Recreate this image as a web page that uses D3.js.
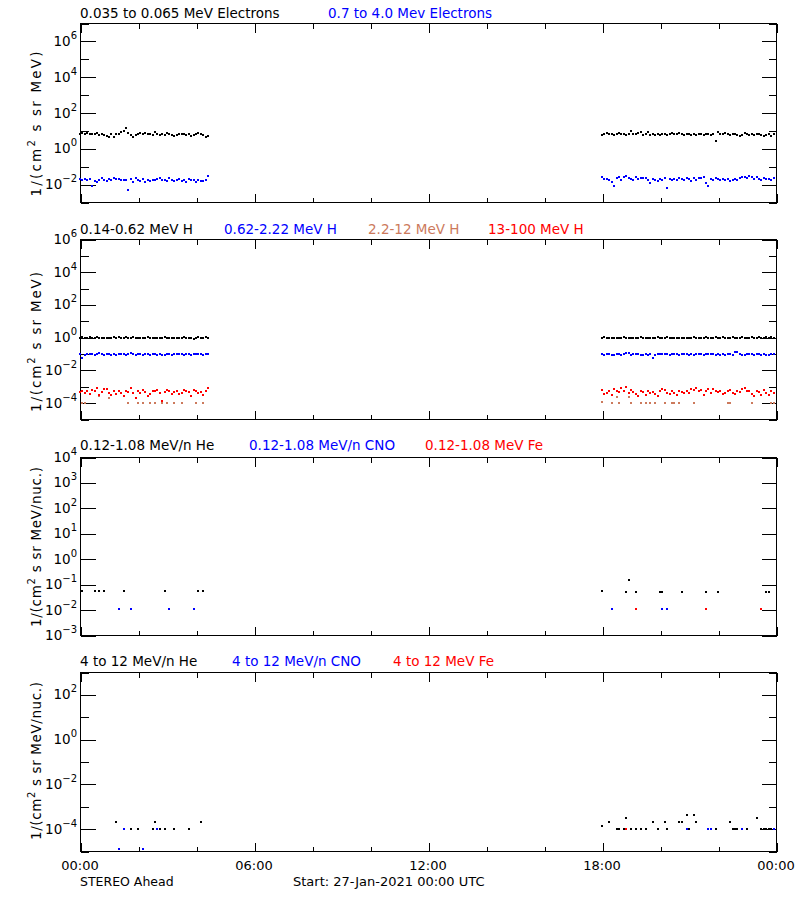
<!DOCTYPE html>
<html><head><meta charset="utf-8">
<script src="https://cdn.jsdelivr.net/npm/d3@7"></script>
<style>
body{margin:0;background:#fff}
svg{display:block}
text{font-family:"DejaVu Sans",sans-serif;font-size:13px}
</style>
</head><body>
<svg id="c" width="800" height="900"></svg>
<script>
// ---------------- DATA ----------------
// time axis (minutes since 27-Jan-2021 00:00)
const xMajorTicks = [0, 360, 720, 1080, 1440];
const xMajorLabels = ["00:00", "06:00", "12:00", "18:00", "00:00"];
const xMinorTicks = [120, 240, 480, 600, 840, 960, 1200, 1320];
const cadence = 5;          // minutes between samples
const seg1Start = 0;        // first data interval start (min)
const seg2Start = 1080;     // second data interval start (min)

// Panel 1: electrons  1/(cm2 s sr MeV)
const e1Seg1 = [6.2,7.4,6.6,7.4,6.6,6.0,6.3,7.4,5.6,6.0,5.3,4.8,4.5,6.0,4.5,6.6,6.0,8.1,9.2,13.4,7.4,5.3,4.4,5.3,6.6,7.4,6.3,7.0,6.0,6.0,5.6,8.1,6.3,5.3,6.3,5.6,7.4,6.3,5.3,5.0,5.6,6.0,6.6,6.0,5.3,6.3,4.8,5.6,6.6,7.4,6.3,5.6,4.4,5.0];
const e1Seg2 = [5.6,6.3,7.4,6.6,6.0,5.3,6.6,7.4,6.3,6.0,5.3,6.0,9.2,6.3,6.6,7.0,7.8,5.6,6.3,7.8,5.3,6.0,5.6,6.3,5.3,6.6,6.0,5.3,6.3,7.0,6.6,6.0,7.0,6.3,5.6,6.6,6.0,5.6,6.6,5.3,6.3,6.6,5.3,6.0,6.6,5.6,6.0,2.7,7.8,6.3,6.0,7.0,6.6,5.6,6.3,6.0,5.3,5.0,5.6,7.0,6.3,5.6,6.6,5.3,6.0,6.6,5.3,4.8,5.6,6.3,5.0,6.0];
const e2Seg1 = [0.019,0.018,0.020,0.016,0.019,0.0074,0.015,0.013,0.017,0.021,0.016,0.014,0.019,0.018,0.021,0.020,0.019,0.017,0.018,0.016,0.0048,0.020,0.013,0.021,0.017,0.015,0.019,0.013,0.016,0.014,0.017,0.016,0.019,0.021,0.018,0.017,0.015,0.022,0.016,0.014,0.017,0.019,0.015,0.016,0.013,0.020,0.016,0.018,0.013,0.016,0.015,0.014,0.017,0.028];
const e2Seg2 = [0.026,0.019,0.020,0.018,0.013,0.0078,0.023,0.025,0.017,0.024,0.027,0.023,0.020,0.017,0.024,0.019,0.021,0.023,0.023,0.017,0.012,0.020,0.018,0.014,0.019,0.018,0.021,0.0060,0.019,0.016,0.020,0.018,0.021,0.019,0.016,0.022,0.020,0.014,0.021,0.018,0.022,0.022,0.026,0.012,0.0078,0.019,0.017,0.022,0.020,0.016,0.020,0.018,0.019,0.014,0.017,0.020,0.016,0.022,0.026,0.025,0.021,0.028,0.026,0.019,0.024,0.020,0.017,0.022,0.019,0.020,0.016,0.021];

// Panel 2: protons
const h1Seg1 = [0.95,1.0,0.9,0.95,1.05,0.9,0.95,1.0,0.95,0.9,0.85,0.9,0.95,0.9,1.0,0.95,1.1,0.9,0.95,1.0,0.9,0.95,1.0,0.9,0.95,0.85,0.9,0.95,1.0,0.9,0.95,0.9,0.85,0.95,0.9,1.0,0.95,0.9,0.95,0.85,0.9,0.95,0.9,1.0,0.85,0.95,0.9,0.8,0.95,1.0,0.9,0.95,1.0,0.95];
const h1Seg2 = [0.95,1.0,0.9,0.95,0.85,0.9,0.95,0.95,0.9,1.0,0.95,0.9,0.95,0.85,0.95,0.9,1.05,0.95,0.9,0.95,0.85,0.9,0.85,1.0,0.95,0.9,0.95,1.0,0.95,0.9,0.85,0.9,0.95,0.95,0.9,0.95,0.9,0.95,1.0,0.95,0.9,0.95,0.9,1.0,0.95,0.9,0.95,1.05,0.9,0.95,1.0,0.95,0.9,0.95,1.0,0.9,0.95,0.9,1.0,0.95,0.9,0.95,1.0,0.95,0.9,1.05,0.85,0.95,1.0,0.95,1.1,0.95];
const h2Seg1 = [0.09,0.057,0.085,0.095,0.10,0.09,0.085,0.095,0.11,0.09,0.085,0.1,0.09,0.08,0.09,0.085,0.095,0.09,0.1,0.085,0.09,0.11,0.095,0.085,0.09,0.1,0.08,0.09,0.095,0.085,0.09,0.1,0.085,0.09,0.08,0.085,0.1,0.09,0.085,0.09,0.095,0.09,0.1,0.085,0.09,0.095,0.08,0.1,0.09,0.1,0.09,0.085,0.09,0.095];
const h2Seg2 = [0.09,0.085,0.09,0.1,0.08,0.085,0.09,0.1,0.085,0.09,0.11,0.11,0.085,0.1,0.09,0.095,0.08,0.085,0.09,0.085,0.09,0.057,0.085,0.1,0.095,0.09,0.1,0.09,0.085,0.09,0.095,0.09,0.085,0.09,0.1,0.095,0.085,0.09,0.085,0.1,0.095,0.09,0.085,0.09,0.095,0.1,0.09,0.08,0.09,0.085,0.09,0.08,0.095,0.09,0.085,0.12,0.13,0.09,0.08,0.085,0.1,0.09,0.095,0.085,0.09,0.1,0.085,0.09,0.08,0.085,0.09,0.09];
const h3Seg1 = [null,9e-5,9e-5,null,null,null,null,null,2.5e-4,null,null,null,2e-4,null,null,null,null,null,null,null,9e-5,null,null,null,9e-5,null,9e-5,null,null,9e-5,null,9e-5,null,null,9e-5,null,9e-5,null,null,9e-5,null,null,9e-5,null,null,null,null,null,9e-5,null,null,9e-5,null,null];
const h3Seg2 = [1.1e-4,null,null,null,9e-5,null,2.1e-4,9e-5,null,null,null,2.1e-4,9e-5,null,null,null,9e-5,null,9e-5,null,9e-5,null,9e-5,null,null,null,9e-5,null,null,9e-5,9e-5,null,9e-5,null,null,null,null,null,9e-5,null,null,null,null,null,null,null,null,null,null,null,null,null,9e-5,9e-5,null,null,null,null,null,null,null,null,9e-5,null,null,null,null,null,null,null,9e-5,9e-5];
const h4Seg1 = [4.5e-4,5e-4,4e-4,5.5e-4,3.5e-4,6e-4,5e-4,8e-4,3e-4,4.5e-4,6.5e-4,6.5e-4,4e-4,3e-4,5e-4,3.5e-4,5e-4,4e-4,2.5e-4,5.5e-4,4.5e-4,7.5e-4,4e-4,1.8e-4,5e-4,4e-4,6e-4,4.5e-4,2.5e-4,3.5e-4,5e-4,5.5e-4,6e-4,4e-4,1.3e-4,4.5e-4,6e-4,5e-4,3.5e-4,4.5e-4,5e-4,3.5e-4,4e-4,6e-4,5e-4,4.5e-4,2.5e-4,6e-4,5e-4,4e-4,4.5e-4,3e-4,5e-4,8e-4];
const h4Seg2 = [6e-4,3.5e-4,4e-4,5e-4,3e-4,6.5e-4,5e-4,4.5e-4,7.5e-4,5.5e-4,9.5e-4,4e-4,6e-4,4.5e-4,3.5e-4,2.5e-4,5e-4,4.5e-4,3e-4,5e-4,4e-4,4.5e-4,3.5e-4,2.5e-4,5e-4,7e-4,6e-4,4e-4,3.5e-4,5e-4,4e-4,3e-4,5e-4,4.5e-4,4e-4,5e-4,4e-4,7e-4,6e-4,8e-4,5e-4,6e-4,3e-4,5e-4,6.5e-4,4e-4,7e-4,5e-4,4.5e-4,5e-4,3.5e-4,4e-4,5.5e-4,6e-4,4e-4,3.5e-4,5e-4,4.5e-4,6.5e-4,8e-4,5.5e-4,5e-4,3.5e-4,2.5e-4,5e-4,4.5e-4,3e-4,6e-4,4e-4,3e-4,5.5e-4,4e-4];

// Panel 3: 0.12-1.08 MeV/n ions (sparse): [minute, value]
const lowHe  = [[5,0.053],[30,0.053],[40,0.053],[50,0.053],[90,0.053],[175,0.053],[245,0.053],[255,0.053],[1080,0.056],[1130,0.050],[1135,0.14],[1150,0.050],[1200,0.050],[1205,0.050],[1245,0.050],[1295,0.050],[1320,0.050],[1420,0.050],[1425,0.050]];
const lowCNO = [[80,0.011],[105,0.011],[185,0.011],[235,0.011],[1100,0.011],[1205,0.011],[1215,0.011]];
const lowFe  = [[1150,0.011],[1295,0.011],[1410,0.011]];

// Panel 4: 4-12 MeV/n ions (sparse): [minute, value]
const hiHe  = [[75,1.9e-4],[105,1e-4],[120,1e-4],[150,1e-4],[155,1.9e-4],[165,1e-4],[175,1e-4],[195,1e-4],[225,1e-4],[250,1.9e-4],
  [1080,1.35e-4],[1095,1.9e-4],[1110,1e-4],[1115,1e-4],[1125,1e-4],[1130,2.9e-4],[1140,1e-4],[1150,1e-4],[1160,1e-4],[1170,1e-4],[1185,1.9e-4],[1195,1e-4],[1210,1.9e-4],[1215,1e-4],[1240,1.9e-4],[1245,1.9e-4],[1255,4.1e-4],[1260,1e-4],[1270,4.1e-4],[1275,1.9e-4],[1315,1e-4],[1345,1.9e-4],[1350,1e-4],[1355,1e-4],[1360,1e-4],[1380,1e-4],[1400,2.9e-4],[1410,1e-4],[1415,1e-4],[1420,1e-4],[1425,1e-4],[1430,1e-4]];
const hiCNO = [[80,1.2e-5],[90,1e-4],[130,1.2e-5],[160,1e-4],[1255,1e-4],[1300,1e-4],[1305,1e-4],[1370,1e-4],[1435,1e-4]];
const hiFe  = [[1130,1e-4]];

// titles
const p1Titles = ["0.035 to 0.065 MeV Electrons", "0.7 to 4.0 Mev Electrons"];
const p2Titles = ["0.14-0.62 MeV H", "0.62-2.22 MeV H", "2.2-12 MeV H", "13-100 MeV H"];
const p3Titles = ["0.12-1.08 MeV/n He", "0.12-1.08 MeV/n CNO", "0.12-1.08 MeV Fe"];
const p4Titles = ["4 to 12 MeV/n He", "4 to 12 MeV/n CNO", "4 to 12 MeV Fe"];

// ---------------- DRAW ----------------
const BLACK = "#000000", BLUE = "#0000ff", RED = "#ff0000", SIENNA = "#cc7a5c";
const X0 = 80, X1 = 776;
const svg = d3.select("#c");
const x = d3.scaleLinear().domain([0, 1440]).range([X0, X1]);

function segPoints(arr, start) {
  return arr.map((v, i) => [start + i * cadence, v]).filter(d => d[1] != null);
}

const panels = [
  { top: 23, bottom: 202, lo: -3, hi: 7, step: 2, unit: "MeV)", labelCY: 124, labelLen: 145, titleY: 18,
    titles: [[p1Titles[0], BLACK, 80], [p1Titles[1], BLUE, 328]],
    series: [
      [BLUE, segPoints(e2Seg1, seg1Start).concat(segPoints(e2Seg2, seg2Start))],
      [BLACK, segPoints(e1Seg1, seg1Start).concat(segPoints(e1Seg2, seg2Start))]
    ] },
  { top: 239, bottom: 419, lo: -5, hi: 6, step: 2, unit: "MeV)", labelCY: 342, labelLen: 140, titleY: 234,
    titles: [[p2Titles[0], BLACK, 80], [p2Titles[1], BLUE, 224], [p2Titles[2], SIENNA, 368], [p2Titles[3], RED, 488]],
    series: [
      [SIENNA, segPoints(h3Seg1, seg1Start).concat(segPoints(h3Seg2, seg2Start))],
      [RED, segPoints(h4Seg1, seg1Start).concat(segPoints(h4Seg2, seg2Start))],
      [BLUE, segPoints(h2Seg1, seg1Start).concat(segPoints(h2Seg2, seg2Start))],
      [BLACK, segPoints(h1Seg1, seg1Start).concat(segPoints(h1Seg2, seg2Start))]
    ] },
  { top: 457, bottom: 635, lo: -3, hi: 4, step: 1, unit: "MeV/nuc.)", labelCY: 547, labelLen: 160, titleY: 450,
    titles: [[p3Titles[0], BLACK, 80], [p3Titles[1], BLUE, 249], [p3Titles[2], RED, 425]],
    series: [[BLACK, lowHe], [BLUE, lowCNO], [RED, lowFe]] },
  { top: 672, bottom: 851, lo: -5, hi: 3, step: 2, unit: "MeV/nuc.)", labelCY: 761, labelLen: 158, titleY: 666,
    titles: [[p4Titles[0], BLACK, 80], [p4Titles[1], BLUE, 232], [p4Titles[2], RED, 393]],
    series: [[BLACK, hiHe], [BLUE, hiCNO], [RED, hiFe]] }
];

panels.forEach((p, pi) => {
  const y = d3.scaleLog().domain([Math.pow(10, p.lo), Math.pow(10, p.hi)]).range([p.bottom, p.top]);
  const g = svg.append("g");
  const decades = d3.range(p.lo, p.hi + 1);
  const major = decades.filter(e => e % p.step === 0).map(e => Math.pow(10, e));
  const minor = decades.filter(e => e % p.step !== 0).map(e => Math.pow(10, e));

  // y ticks left & right
  [[d3.axisLeft, X0], [d3.axisRight, X1]].forEach(([fn, xp]) => {
    g.append("g").attr("transform", `translate(${xp + 0.5},0.5)`)
      .call(fn(y).tickValues(major).tickSize(-15).tickSizeOuter(0).tickFormat(""))
      .call(a => a.select(".domain").remove());
    g.append("g").attr("transform", `translate(${xp + 0.5},0.5)`)
      .call(fn(y).tickValues(minor).tickSize(-8).tickSizeOuter(0).tickFormat(""))
      .call(a => a.select(".domain").remove());
  });
  // x ticks bottom & top
  [[d3.axisBottom, p.bottom], [d3.axisTop, p.top]].forEach(([fn, yp]) => {
    g.append("g").attr("transform", `translate(0.5,${yp + 0.5})`)
      .call(fn(x).tickValues(xMajorTicks).tickSize(-9).tickSizeOuter(0).tickFormat(""))
      .call(a => a.select(".domain").remove());
    g.append("g").attr("transform", `translate(0.5,${yp + 0.5})`)
      .call(fn(x).tickValues(xMinorTicks).tickSize(-5).tickSizeOuter(0).tickFormat(""))
      .call(a => a.select(".domain").remove());
  });
  g.selectAll(".tick line").attr("stroke", "#000").attr("shape-rendering", "crispEdges");
  // frame
  g.append("rect").attr("x", X0 + 0.5).attr("y", p.top + 0.5)
    .attr("width", X1 - X0).attr("height", p.bottom - p.top)
    .attr("fill", "none").attr("stroke", "#000").attr("shape-rendering", "crispEdges");

  // y tick labels 10^n
  major.forEach(v => {
    const e = Math.round(Math.log10(v));
    const t = g.append("text").attr("x", 77).attr("y", y(v) + 5).attr("text-anchor", "end")
      .style("font-size", "13.5px");
    t.append("tspan").text("10");
    t.append("tspan").attr("dy", -7).style("font-size", "10px").text(String(e).replace("-", "\u2212"));
  });

  // y axis title
  const yt = g.append("text").attr("transform", `translate(41,${p.labelCY}) rotate(-90)`)
    .attr("text-anchor", "middle").style("font-size", "13.5px")
    .attr("textLength", p.labelLen).attr("lengthAdjust", "spacing");
  yt.append("tspan").text("1/(cm");
  yt.append("tspan").attr("dy", -6).style("font-size", "10px").text("2");
  yt.append("tspan").attr("dy", 6).text(" s sr " + p.unit);

  // titles
  p.titles.forEach(([txt, col, tx]) => {
    g.append("text").attr("x", tx).attr("y", p.titleY).attr("fill", col)
      .style("font-size", "13.5px").text(txt);
  });

  // data points
  p.series.forEach(([col, pts]) => {
    g.append("g").selectAll("rect").data(pts).join("rect")
      .attr("x", d => Math.round(x(d[0])) - 1)
      .attr("y", d => Math.round(y(d[1])) - 1)
      .attr("width", 2).attr("height", 2)
      .attr("fill", col);
  });

  if (pi === panels.length - 1) {
    xMajorTicks.forEach((t, i) => {
      g.append("text").attr("x", x(t)).attr("y", p.bottom + 19)
        .attr("text-anchor", "middle").style("font-size", "13px").text(xMajorLabels[i]);
    });
  }
});

svg.append("text").attr("x", 80).attr("y", 886).style("font-size", "12.5px").text("STEREO Ahead");
svg.append("text").attr("x", 293).attr("y", 886).style("font-size", "13px").text("Start: 27-Jan-2021 00:00 UTC");
</script>
</body></html>
